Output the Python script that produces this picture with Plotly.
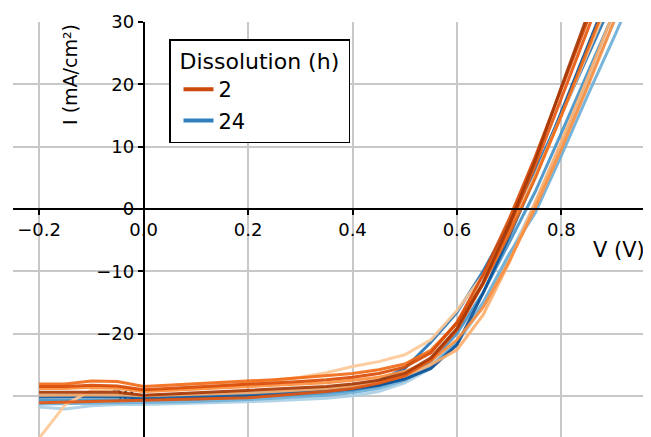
import plotly.graph_objects as go

# ---------------- data ----------------
voltage = [-0.20, -0.15, -0.10, -0.05, 0.00, 0.05, 0.10, 0.15, 0.20, 0.25, 0.30, 0.35,
           0.40, 0.45, 0.50, 0.55, 0.60, 0.65, 0.70, 0.75, 0.80, 0.85, 0.90, 0.95]

# Dissolution 2 h (current density, mA/cm²)
j_2h_a = [-29.4, -29.4, -29.3, -29.4, -29.9, -29.7, -29.6, -29.4, -29.2, -29.0, -28.8, -28.5,
          -28.1, -27.5, -26.4, -23.9, -19.2, -11.8, -2.6, 7.8, 19.6, 31.5, 43.0, 54.0]
j_2h_b = [-28.5, -28.5, -28.3, -28.4, -29.0, -28.8, -28.6, -28.4, -28.2, -28.0, -27.7, -27.4,
          -27.0, -26.4, -25.4, -23.1, -18.2, -10.6, -1.6, 8.4, 19.2, 30.2, 41.0, 52.0]
j_2h_c = [-31.1, -31.0, -30.9, -30.8, -30.8, -30.7, -30.6, -30.5, -30.3, -30.0, -29.7, -29.3,
          -28.8, -28.0, -26.8, -24.2, -19.4, -12.0, -3.0, 7.0, 17.8, 28.8, 39.8, 50.5]
j_2h_d = [-28.1, -28.1, -27.6, -27.7, -28.5, -28.3, -28.1, -27.9, -27.7, -27.4, -27.1, -26.8,
          -26.4, -25.8, -24.9, -22.7, -18.4, -12.0, -4.0, 5.0, 15.0, 25.5, 36.0, 46.5]
j_2h_e = [-28.8, -28.8, -28.6, -28.7, -29.3, -29.1, -28.9, -28.8, -28.6, -28.4, -28.2, -27.9,
          -27.5, -27.0, -26.1, -24.4, -21.0, -15.8, -8.4, 0.2, 9.6, 19.6, 30.0, 40.5]
j_2h_f = [-29.9, -29.9, -29.8, -29.8, -30.0, -29.9, -29.8, -29.7, -29.5, -29.3, -29.1, -28.8,
          -28.4, -27.8, -26.8, -25.0, -22.6, -17.0, -8.6, 1.0, 10.8, 21.0, 31.5, 42.0]
j_2h_g = [-36.8, -31.4, -29.1, -28.9, -29.3, -29.1, -28.9, -28.5, -28.0, -27.5, -27.0, -26.3,
          -25.3, -24.5, -23.4, -21.0, -16.3, -10.6, -3.2, 5.4, 15.0, 25.0, 35.0, 45.0]

# Dissolution 24 h
j_24h_a = [-30.2, -30.2, -30.1, -30.1, -30.4, -30.3, -30.2, -30.1, -29.9, -29.7, -29.5, -29.2,
           -28.9, -28.3, -27.3, -25.6, -21.8, -13.5, -4.4, 5.2, 15.6, 26.0, 36.5, 47.0]
j_24h_b = [-30.0, -30.0, -29.9, -29.9, -30.1, -30.0, -29.9, -29.8, -29.6, -29.4, -29.2, -28.9,
           -28.5, -27.6, -25.6, -21.4, -16.6, -10.0, -2.4, 6.2, 15.2, 24.4, 33.6, 43.0]
j_24h_c = [-30.7, -30.7, -30.6, -30.6, -30.7, -30.6, -30.5, -30.4, -30.2, -30.0, -29.8, -29.5,
           -29.1, -28.4, -27.0, -24.5, -20.0, -13.4, -5.4, 2.8, 12.2, 21.8, 31.4, 41.0]
j_24h_d = [-31.3, -31.3, -31.2, -31.1, -31.1, -31.0, -30.9, -30.8, -30.6, -30.4, -30.2, -29.9,
           -29.5, -28.8, -27.5, -25.2, -21.4, -15.0, -7.2, -0.6, 8.6, 18.2, 27.4, 37.0]
j_24h_e = [-31.8, -32.1, -31.6, -31.4, -31.4, -31.3, -31.2, -31.1, -31.0, -30.8, -30.6, -30.4,
           -30.0, -29.3, -27.9, -25.6, -21.6, -15.6, -7.6, 1.0, 10.4, 20.0, 29.8, 39.6]

legend_labels = ["2", "24"]
x_tick_vals = [-0.2, 0.0, 0.2, 0.4, 0.6, 0.8]
x_tick_text = ["\u22120.2", "0.0", "0.2", "0.4", "0.6", "0.8"]
y_tick_vals = [-30, -20, -10, 0, 10, 20, 30]
y_tick_text = ["\u221230", "\u221220", "\u221210", "0", "10", "20", "30"]

# ---------------- styling ----------------
series_24h = [j_24h_e, j_24h_d, j_24h_c, j_24h_a, j_24h_b]
colors_24h = ["#a9cfe5", "#6baed6", "#4292c6", "#0b4f95", "#2171b5"]
series_2h = [j_2h_g, j_2h_f, j_2h_e, j_2h_d, j_2h_c, j_2h_b, j_2h_a]
colors_2h = ["#fdc896", "#fdae6b", "#fd8d3c", "#f16913", "#e6550d", "#d94801", "#a63603"]
legend_colors = ["#cc4a0c", "#3080bd"]

FONT = "DejaVu Sans"
x_range = [-0.25, 0.96]
y_range = [-36.6, 30]

fig = go.Figure()
for ys, c in zip(series_24h, colors_24h):
    fig.add_trace(go.Scatter(x=voltage, y=ys, mode="lines", line=dict(color=c, width=3),
                             opacity=0.9, showlegend=False, hoverinfo="skip"))
for ys, c in zip(series_2h, colors_2h):
    fig.add_trace(go.Scatter(x=voltage, y=ys, mode="lines", line=dict(color=c, width=3),
                             opacity=0.9, showlegend=False, hoverinfo="skip"))
for i, (lab, c) in enumerate(zip(legend_labels, legend_colors)):
    fig.add_trace(go.Scatter(x=[None], y=[None], mode="lines", name=lab,
                             line=dict(color=c, width=4), legendgroup=lab))

# empty trace to create overlay axis that draws the vertical spine above the curves
fig.add_trace(go.Scatter(x=[None], y=[None], yaxis="y2", showlegend=False, hoverinfo="skip"))

x_pos = (0 - y_range[0]) / (y_range[1] - y_range[0])
y_pos = (0 - x_range[0]) / (x_range[1] - x_range[0])

# page body has an 8px margin, so the figure is shifted; margins compensate
fig.update_layout(
    width=651, height=437,
    margin=dict(l=5, r=14, t=14, b=8),
    paper_bgcolor="white", plot_bgcolor="white",
    font=dict(family=FONT, color="black"),
    showlegend=True,
    legend=dict(
        x=(169 - 13) / 632, y=1 - (39 - 22) / 415, xanchor="left", yanchor="top",
        bgcolor="white", bordercolor="black", borderwidth=1.5,
        title=dict(text="\u00a0Dissolution (h)\u00a0", font=dict(size=22, family=FONT)),
        font=dict(size=21, family=FONT),
        tracegroupgap=1,
        indentation=8,
    ),
    xaxis=dict(
        range=x_range, anchor="free", position=x_pos,
        tickmode="array", tickvals=x_tick_vals, ticktext=x_tick_text,
        tickfont=dict(size=18, family=FONT),
        ticks="outside", ticklen=5, tickwidth=1.5, tickcolor="black",
        showline=True, linecolor="black", linewidth=1.5,
        showgrid=True, gridcolor="#c8c8c8", gridwidth=1.5,
        zeroline=False, automargin=False, layer="above traces",
    ),
    yaxis=dict(
        range=y_range, anchor="free", position=y_pos,
        tickmode="array", tickvals=y_tick_vals, ticktext=y_tick_text,
        tickfont=dict(size=18, family=FONT),
        ticks="outside", ticklen=5, tickwidth=1.5, tickcolor="black",
        showline=True, linecolor="black", linewidth=1.5,
        showgrid=True, gridcolor="#c8c8c8", gridwidth=1.5,
        zeroline=False, automargin=False, layer="below traces",
    ),
    yaxis2=dict(
        range=y_range, overlaying="y", anchor="free", position=y_pos,
        showline=True, linecolor="black", linewidth=1.5,
        showticklabels=False, ticks="", showgrid=False, zeroline=False,
        automargin=False, layer="above traces",
    ),
    annotations=[
        dict(text="V (V)", xref="paper", yref="paper", x=(619 - 13) / 632,
             y=1 - (250 - 22) / 415, showarrow=False, font=dict(size=21, family=FONT),
             xanchor="center", yanchor="middle"),
        dict(text="I (mA/cm\u00b2)", xref="paper", yref="paper", x=(70 - 13) / 632,
             y=1 - (75 - 22) / 415, showarrow=False, textangle=-90,
             font=dict(size=19, family=FONT), xanchor="center", yanchor="middle"),
    ],
)

fig.write_html("out.html")
